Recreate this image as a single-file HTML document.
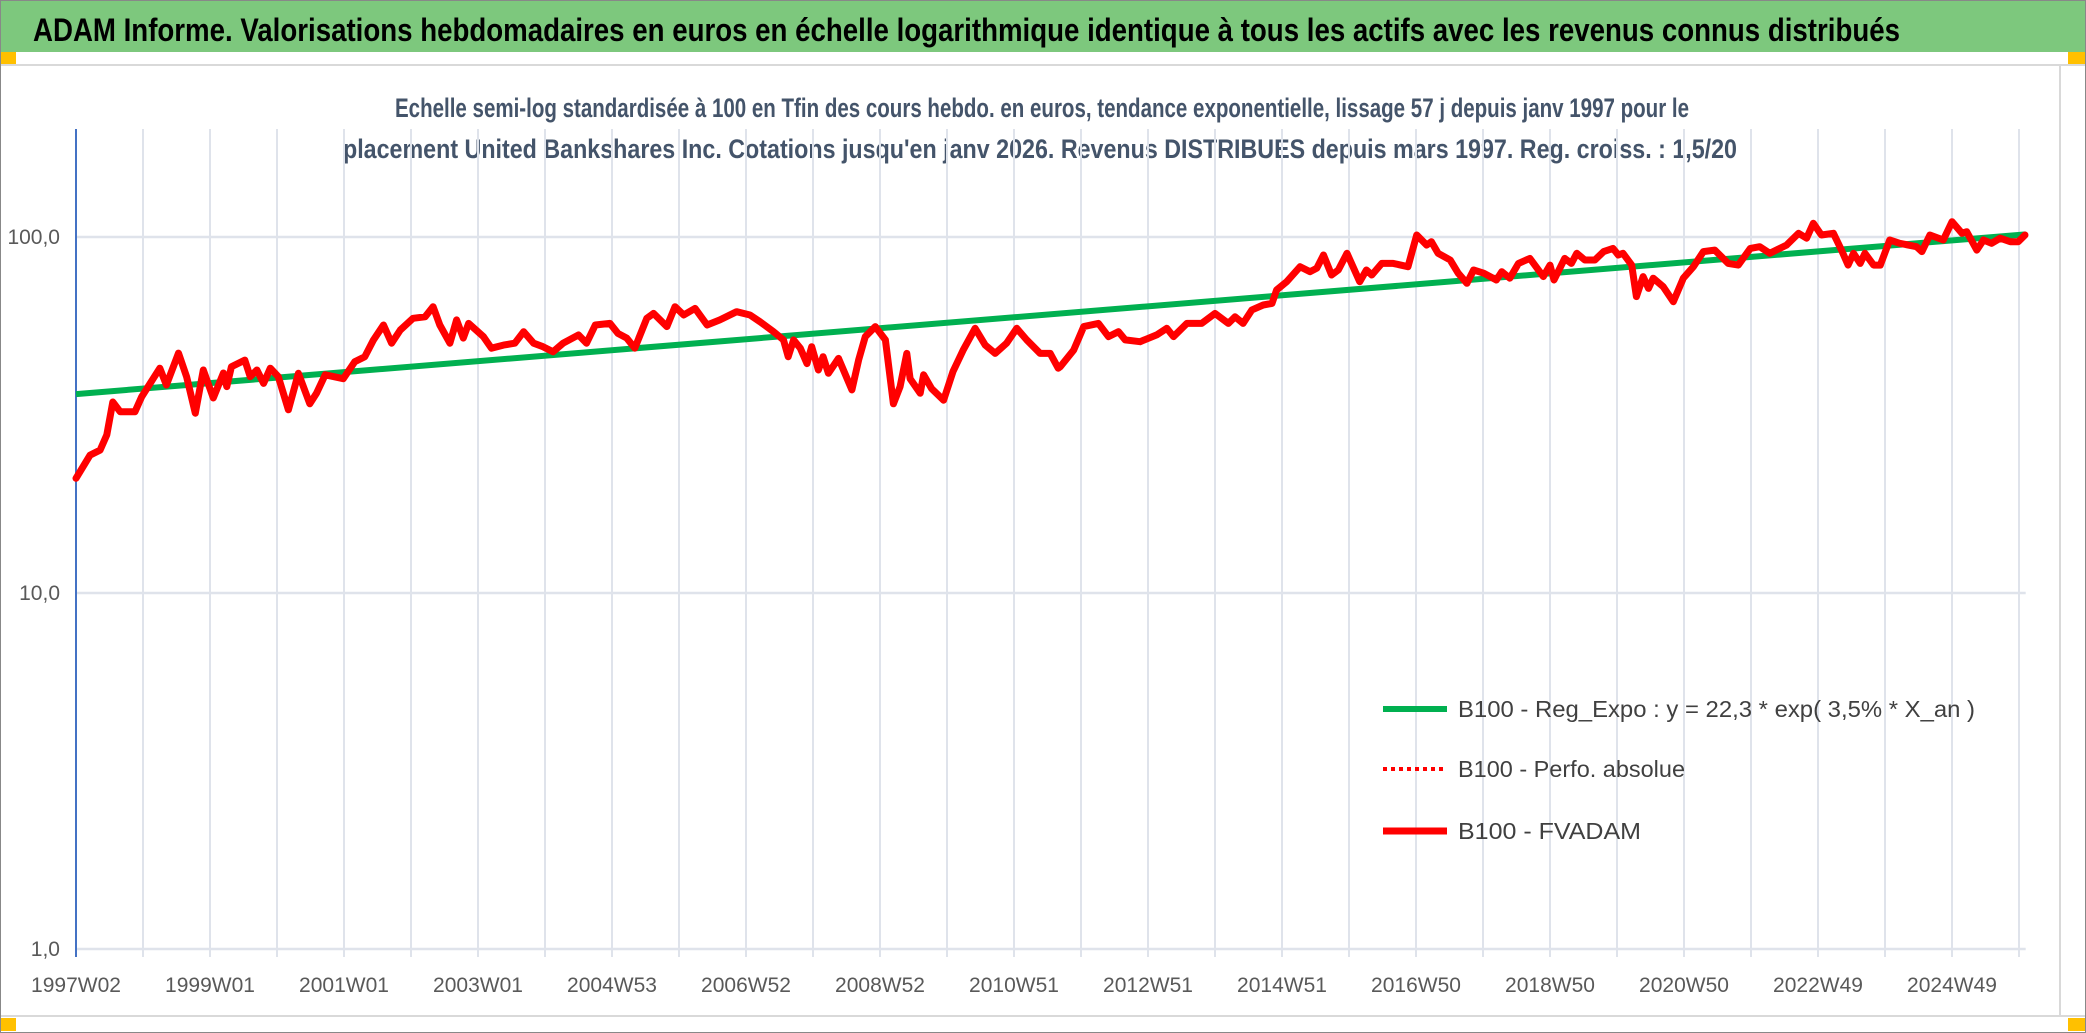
<!DOCTYPE html>
<html><head><meta charset="utf-8">
<style>
html,body{margin:0;padding:0;background:#fff;}
svg{display:block;font-family:"Liberation Sans Narrow","Liberation Sans",sans-serif;}
</style></head>
<body>
<svg id="chart" width="2086" height="1033" viewBox="0 0 2086 1033" xmlns="http://www.w3.org/2000/svg">
  <rect x="0" y="0" width="2086" height="1033" fill="#ffffff"/>
  <rect x="0" y="0" width="2086" height="52" fill="#7dc87d"/>
  <text x="33" y="41" font-size="32" font-weight="bold" fill="#000" textLength="1867" lengthAdjust="spacingAndGlyphs">ADAM Informe. Valorisations hebdomadaires en euros en échelle logarithmique identique à tous les actifs avec les revenus connus distribués</text>
  <rect x="0" y="52" width="16" height="12" fill="#ffc000"/>
  <rect x="2068" y="52" width="18" height="12" fill="#ffc000"/>
  <rect x="0" y="1018" width="16" height="13" fill="#ffc000"/>
  <rect x="2068" y="1018" width="18" height="13" fill="#ffc000"/>
  <line x1="0" y1="65" x2="2086" y2="65" stroke="#d9d9d9" stroke-width="2"/>
  <line x1="0" y1="1016" x2="2086" y2="1016" stroke="#d9d9d9" stroke-width="2"/>
  <line x1="2060" y1="65" x2="2060" y2="1016" stroke="#d9d9d9" stroke-width="2"/>
  <rect x="0.5" y="0.5" width="2085" height="1032" fill="none" stroke="#888" stroke-width="1"/>

  <text x="395" y="117" font-size="27" font-weight="bold" fill="#44546a" textLength="1294" lengthAdjust="spacingAndGlyphs">Echelle semi-log standardisée à 100 en Tfin des cours hebdo. en euros, tendance exponentielle, lissage 57 j depuis janv 1997 pour le</text>
  <text x="343" y="158" font-size="27" font-weight="bold" fill="#44546a" textLength="1394" lengthAdjust="spacingAndGlyphs">placement United Bankshares Inc. Cotations jusqu'en janv 2026. Revenus DISTRIBUES depuis mars 1997. Reg. croiss. : 1,5/20</text>

  <g id="grid"></g>
  <g id="axes"></g>
  <g id="series"></g>

  <g>
    <line x1="1383" y1="709" x2="1447" y2="709" stroke="#00b050" stroke-width="6"/>
    <text x="1458" y="717" font-size="23" fill="#404040" textLength="517" lengthAdjust="spacingAndGlyphs">B100 - Reg_Expo : y = 22,3 * exp( 3,5% *  X_an )</text>
    <line x1="1383" y1="769" x2="1447" y2="769" stroke="#ff0000" stroke-width="4" stroke-dasharray="4 4"/>
    <text x="1458" y="777" font-size="23" fill="#404040" textLength="227" lengthAdjust="spacingAndGlyphs">B100 - Perfo. absolue</text>
    <line x1="1383" y1="831" x2="1447" y2="831" stroke="#ff0000" stroke-width="7"/>
    <text x="1458" y="839" font-size="23" fill="#404040" textLength="183" lengthAdjust="spacingAndGlyphs">B100 - FVADAM</text>
  </g>
</svg>
<script>
// ---- data ----
const xTickLabels = ["1997W02","1999W01","2001W01","2003W01","2004W53","2006W52","2008W52","2010W51","2012W51","2014W51","2016W50","2018W50","2020W50","2022W49","2024W49"];
const yTickValues = [1, 10, 100];
const yTickLabels = ["1,0","10,0","100,0"];
const regT = [0, 29.1];
const regValues = [36.2, 101.7];
const fvT = [0,0.21,0.36,0.46,0.55,0.66,0.88,0.98,1.25,1.35,1.53,1.65,1.78,1.90,2.05,2.20,2.25,2.32,2.52,2.60,2.70,2.80,2.90,3.02,3.17,3.32,3.49,3.59,3.72,3.99,4.16,4.31,4.44,4.59,4.71,4.84,5.03,5.21,5.33,5.43,5.58,5.68,5.78,5.86,6.08,6.20,6.38,6.55,6.68,6.83,6.97,7.12,7.27,
7.50,7.62,7.75,7.97,8.09,8.22,8.34,8.52,8.62,8.82,8.94,9.07,9.24,9.42,9.61,9.86,10.06,10.21,10.41,10.56,10.63,10.71,10.81,10.91,10.98,11.08,11.15,11.23,11.38,11.58,11.68,11.78,11.93,12.08,12.20,12.30,12.40,12.45,12.60,12.65,12.77,12.95,13.09,13.24,13.42,13.57,13.72,13.89,14.04,14.19,14.39,14.54,14.66,
14.69,14.89,15.04,15.26,15.41,15.56,15.66,15.88,16.13,16.28,16.38,16.58,16.80,17.00,17.20,17.30,17.42,17.55,17.72,17.85,17.92,18.07,18.27,18.42,18.52,18.62,18.74,18.84,18.97,19.16,19.26,19.34,19.49,19.66,19.88,20.01,20.16,20.23,20.33,20.51,20.63,20.76,20.86,21.01,21.20,21.28,21.40,21.53,21.70,21.90,22.0,
22.06,22.22,22.32,22.40,22.52,22.67,22.80,22.94,23.02,23.09,23.22,23.29,23.39,23.47,23.54,23.69,23.84,23.99,24.14,24.29,24.46,24.66,24.81,24.99,25.13,25.28,25.53,25.71,25.83,25.93,26.05,26.23,26.35,26.45,26.53,26.63,26.70,26.83,26.93,27.07,27.22,27.47,27.55,27.67,27.87,28.0,28.15,28.22,28.37,28.47,28.59,28.72,28.87,28.99,29.09];
const fvValues = [21.0,24.4,25.2,27.8,34.4,32.3,32.3,35.6,42.8,38.4,47.2,40.5,32.0,42.3,35.3,41.5,38.0,43.2,45.1,40.5,42.3,38.8,42.8,40.5,32.7,41.4,34.0,36.4,41.0,40.0,44.6,46.1,51.4,56.6,50.3,54.8,59.1,59.7,63.7,56.6,50.3,58.5,52.0,57.2,52.5,48.7,49.7,50.3,54.2,50.3,49.2,47.6,50.3,
53.1,50.3,56.6,57.2,53.6,52.0,48.7,59.1,61.0,56.0,63.7,60.4,63.0,56.6,58.5,61.7,60.4,57.8,54.2,51.4,46.1,51.4,48.7,44.1,49.2,42.3,46.1,41.4,45.6,37.2,45.1,52.5,56.0,51.4,34.0,38.0,47.1,40.0,36.4,41.0,37.5,34.8,41.9,48.1,55.4,49.7,47.1,50.3,55.4,51.4,47.1,47.1,42.8,
43.2,48.1,56.0,57.2,52.5,54.2,51.4,50.8,53.1,55.4,52.5,57.2,57.2,61.0,57.2,59.7,57.2,62.4,64.4,65.1,71.0,74.9,82.5,79.9,81.7,89.0,78.2,80.8,90.0,74.9,80.8,78.2,84.3,84.3,82.5,101.3,94.9,97.0,90.0,86.2,79.1,74.1,80.8,79.1,75.7,79.9,76.6,84.3,87.1,77.4,83.4,
75.7,87.1,84.3,90.0,86.2,86.2,91.0,92.9,89.0,90.0,83.4,68.0,77.4,71.7,76.6,72.5,65.8,76.6,82.5,91.0,91.9,84.3,83.4,92.9,93.9,90.0,94.9,102.4,99.2,109.3,101.3,102.4,91.9,83.4,90.0,84.3,90.0,83.4,83.4,98.1,96.0,93.9,91.0,101.3,98.1,110.4,102.4,103.5,91.9,98.1,96.0,99.2,97.0,97.0,101.3];

// ---- scales ----
const X0 = 76, PX_PER_YEAR = 67;
const Y100 = 237, DECADE = 356;
function xs(t){ return X0 + t*PX_PER_YEAR; }
function ys(v){ return Y100 - (Math.log10(v) - 2)*DECADE; }
const NS = "http://www.w3.org/2000/svg";
function mk(tag, attrs, parent){ const e=document.createElementNS(NS,tag); for(const k in attrs) e.setAttribute(k,attrs[k]); parent.appendChild(e); return e; }

const grid = document.getElementById('grid');
const axes = document.getElementById('axes');
const series = document.getElementById('series');
const yTop = 129, yBot = ys(1);

// vertical gridlines (one per year) + tick marks
for(let k=0;k<=29;k++){
  if(k>0){
    const g = mk('line',{x1:xs(k),y1:yTop,x2:xs(k),y2:yBot+8,stroke:'#dfe3eb','stroke-width':2},grid);
    
    
  }
}
// horizontal gridlines
yTickValues.forEach((v,i)=>{
  const g = mk('line',{x1:X0,y1:ys(v),x2:xs(29.1),y2:ys(v),stroke:'#dfe3eb','stroke-width':2.5},grid);
  
  
  const t = mk('text',{x:60,y:ys(v)+7,'font-size':21,fill:'#595959','text-anchor':'end'},axes);
  t.textContent = yTickLabels[i];
  
  
});
// x tick labels every 2 years
xTickLabels.forEach((lab,i)=>{
  const t = mk('text',{x:xs(i*2),y:992,'font-size':21,fill:'#595959','text-anchor':'middle'},axes);
  t.textContent = lab;
  
  
});
// y axis line
const ax = mk('line',{x1:X0,y1:yTop,x2:X0,y2:yBot+8,stroke:'#4472c4','stroke-width':2},axes);



// regression line
let d = regT.map((t,i)=>(i?'L':'M')+xs(t).toFixed(1)+' '+ys(regValues[i]).toFixed(1)).join(' ');
const reg = mk('path',{d:d,fill:'none',stroke:'#00b050','stroke-width':6},series);



// FVADAM line
d = fvT.map((t,i)=>(i?'L':'M')+xs(t).toFixed(1)+' '+ys(fvValues[i]).toFixed(1)).join(' ');
const fv = mk('path',{d:d,fill:'none',stroke:'#ff0000','stroke-width':7,'stroke-linejoin':'round','stroke-linecap':'round'},series);


</script>
</body></html>
